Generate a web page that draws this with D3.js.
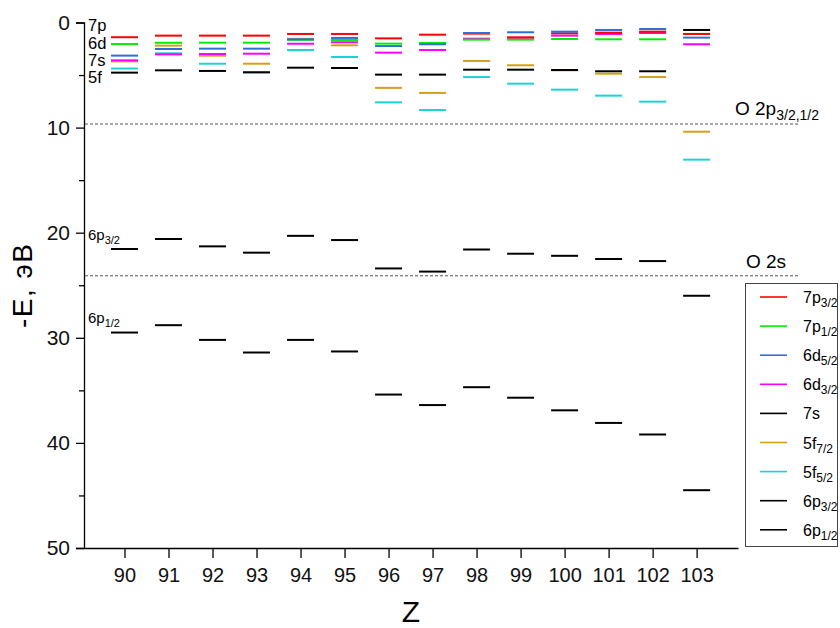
<!DOCTYPE html>
<html>
<head>
<meta charset="utf-8">
<script src="https://cdn.jsdelivr.net/npm/d3@7"></script>
<style>
  body { margin: 0; background: #fff; }
  text { font-family: "Liberation Sans", Arial, sans-serif; }
</style>
</head>
<body>
<script>
const width = 840
const height = 628

// atomic number
const zs = [90, 91, 92, 93, 94, 95, 96, 97, 98, 99, 100, 101, 102, 103]

// -E, eV for each level
const p7_32 = [1.4, 1.25, 1.25, 1.25, 1.09, 1.09, 1.51, 1.16, 1.06, 1.42, 1.03, 0.97, 0.87, 1.09]
const p7_12 = [2.05, 1.93, 1.92, 1.92, 1.65, 1.66, 2.01, 1.95, 1.63, 1.63, 1.57, 1.6, 1.6, 1.09]
const d6_52 = [3.15, 2.52, 2.49, 2.49, 1.6, 1.47, 2.24, 2.07, 1.0, 0.93, 0.87, 0.71, 0.62, 1.44]
const d6_32 = [3.6, 3.03, 3.0, 2.97, 2.02, 1.88, 2.87, 2.62, 1.54, 1.44, 1.25, 1.09, 1.0, 2.07]
const s7 = [4.77, 4.55, 4.61, 4.74, 4.3, 4.33, 4.96, 4.96, 4.49, 4.49, 4.52, 4.64, 4.64, 0.71]
const f5_72 = [3.7, 2.2, 3.16, 3.92, 1.55, 2.17, 6.22, 6.7, 3.66, 4.07, 4.55, 4.87, 5.19, 10.39]
const f5_52 = [4.38, 2.93, 3.92, 4.74, 2.62, 3.28, 7.6, 8.33, 5.19, 5.82, 6.39, 6.96, 7.53, 13.05]
const p6_32 = [21.55, 20.6, 21.3, 21.9, 20.3, 20.7, 23.4, 23.7, 21.6, 22.0, 22.2, 22.5, 22.7, 26.0]
const p6_12 = [29.5, 28.8, 30.2, 31.4, 30.2, 31.3, 35.4, 36.4, 34.7, 35.7, 36.9, 38.1, 39.2, 44.5]

// oxygen reference levels
const oLevels = [9.66, 24.1]

const yTicks = [0, 10, 20, 30, 40, 50]
const yMinor = [5, 15, 25, 35, 45]

const series = [
  { base: '7p', sub: '3/2', values: p7_32, color: '#ff0000' },
  { base: '7p', sub: '1/2', values: p7_12, color: '#00ee00' },
  { base: '6d', sub: '5/2', values: d6_52, color: '#2f6fdc' },
  { base: '6d', sub: '3/2', values: d6_32, color: '#ff00ff' },
  { base: '7s', sub: '', values: s7, color: '#000000' },
  { base: '5f', sub: '7/2', values: f5_72, color: '#d4a017' },
  { base: '5f', sub: '5/2', values: f5_52, color: '#1ed2d2' },
  { base: '6p', sub: '3/2', values: p6_32, color: '#000000' },
  { base: '6p', sub: '1/2', values: p6_12, color: '#000000' }
]
// order the marks are drawn in (later on top)
const drawOrder = [8, 7, 6, 5, 4, 3, 1, 0, 2]

const x = d3.scaleLinear().domain([89.08, 103.94]).range([84, 738])
const y = d3.scaleLinear().domain([0, 50]).range([22.5, 548])

const svg = d3.select('body').append('svg').attr('width', width).attr('height', height)

// axes
const yAxis = svg.append('g')
  .attr('transform', 'translate(84,0)')
  .call(d3.axisLeft(y).tickValues(yTicks).tickSize(8).tickPadding(6))
yAxis.selectAll('text').attr('font-size', 21).attr('fill', '#111')
yAxis.select('.domain').attr('stroke-width', 1.3)
yAxis.selectAll('.tick line').attr('stroke-width', 1.3)

svg.append('g')
  .attr('transform', 'translate(84,0)')
  .call(d3.axisLeft(y).tickValues(yMinor).tickSize(5).tickFormat(''))
  .call(g => g.select('.domain').remove())
  .selectAll('.tick line').attr('stroke-width', 1.3)

const xAxis = svg.append('g')
  .attr('transform', `translate(0,${y(50)})`)
  .call(d3.axisBottom(x).tickValues(zs).tickSize(10).tickPadding(10).tickSizeOuter(0))
xAxis.selectAll('text').attr('font-size', 20).attr('fill', '#111')
xAxis.select('.domain').attr('stroke-width', 1.3)
xAxis.selectAll('.tick line').attr('stroke-width', 1.3)

// axis titles
svg.append('text')
  .attr('transform', `translate(32,${(y(0) + y(50)) / 2}) rotate(-90)`)
  .attr('text-anchor', 'middle')
  .attr('font-size', 28)
  .attr('letter-spacing', 1.5)
  .text('-E, эВ')

svg.append('text')
  .attr('x', 411).attr('y', 622)
  .attr('text-anchor', 'middle')
  .attr('font-size', 30)
  .text('Z')

// dashed oxygen lines
svg.selectAll('line.oref')
  .data(oLevels)
  .join('line')
  .attr('class', 'oref')
  .attr('x1', 85).attr('x2', 799)
  .attr('y1', d => y(d)).attr('y2', d => y(d))
  .attr('stroke', '#555')
  .attr('stroke-width', 1)
  .attr('stroke-dasharray', '3,2')

const o2p = svg.append('text').attr('x', 735).attr('y', 115).attr('font-size', 19)
o2p.append('tspan').text('O 2p')
o2p.append('tspan').attr('font-size', 14).attr('dy', 5).text('3/2,1/2')

svg.append('text').attr('x', 746).attr('y', 268).attr('font-size', 19).text('O 2s')

// energy level marks
drawOrder.forEach(i => {
  const s = series[i]
  svg.append('g')
    .selectAll('line')
    .data(s.values.map((v, j) => ({ z: zs[j], v })))
    .join('line')
    .attr('x1', d => x(d.z) - 13.5)
    .attr('x2', d => x(d.z) + 13.5)
    .attr('y1', d => y(d.v))
    .attr('y2', d => y(d.v))
    .attr('stroke', s.color)
    .attr('stroke-width', 2)
})

// level labels near the axis
const shellLabels = [['7p', 31], ['6d', 48.5], ['7s', 66], ['5f', 83]]
svg.selectAll('text.shell')
  .data(shellLabels)
  .join('text')
  .attr('class', 'shell')
  .attr('x', 88).attr('y', d => d[1])
  .attr('font-size', 16.5)
  .text(d => d[0])

const coreLabels = [['6p', '3/2', 240], ['6p', '1/2', 323]]
coreLabels.forEach(d => {
  const t = svg.append('text').attr('x', 88).attr('y', d[2]).attr('font-size', 15)
  t.append('tspan').text(d[0])
  t.append('tspan').attr('font-size', 11).attr('dy', 4).text(d[1])
})

// legend
const legend = svg.append('g')
legend.append('rect')
  .attr('x', 745.5).attr('y', 283.5)
  .attr('width', 92).attr('height', 263)
  .attr('fill', '#fff')
  .attr('stroke', '#444')
  .attr('stroke-width', 1)

const rows = legend.selectAll('g.row')
  .data(series)
  .join('g')
  .attr('class', 'row')
  .attr('transform', (d, i) => `translate(0,${297 + i * 29.1})`)

rows.append('line')
  .attr('x1', 760).attr('x2', 787)
  .attr('stroke', d => d.color)
  .attr('stroke-width', 1.6)

const lt = rows.append('text')
  .attr('x', 803).attr('y', 6)
  .attr('font-size', 16)
lt.append('tspan').text(d => d.base)
lt.append('tspan').attr('font-size', 12).attr('dy', 4).text(d => d.sub)
</script>
</body>
</html>
